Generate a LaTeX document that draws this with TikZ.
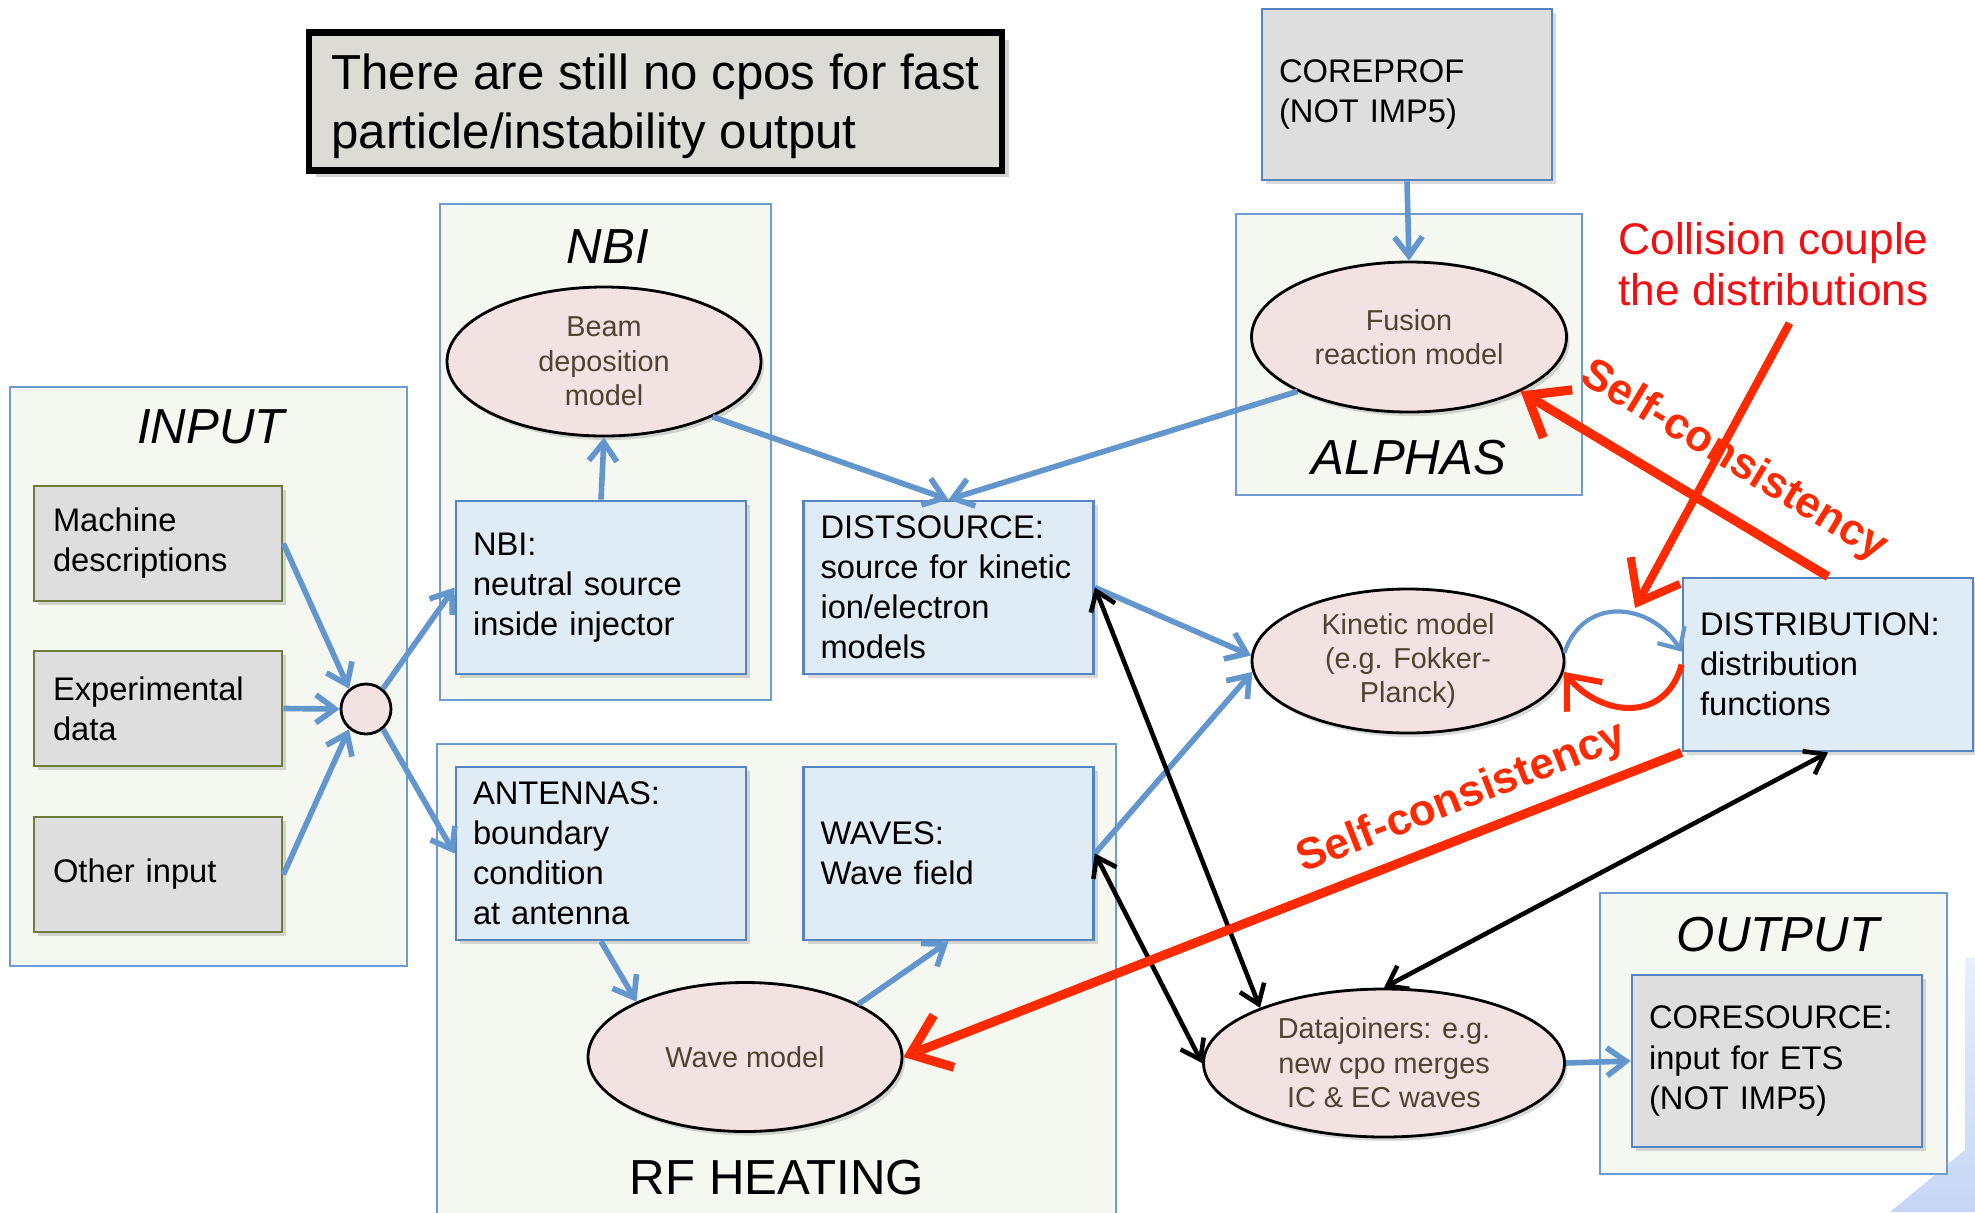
\documentclass[tikz,border=0pt]{standalone}
\usepackage{fontspec}
\setmainfont{Liberation Sans}
\usetikzlibrary{arrows.meta,shapes.geometric,shadows}

\definecolor{panelfill}{HTML}{F5F8F1}
\definecolor{panelline}{HTML}{6E9BD0}
\definecolor{boxfill}{HTML}{DFEBF5}
\definecolor{boxline}{HTML}{5585C0}
\definecolor{greyfill}{HTML}{DEDEDE}
\definecolor{oliveline}{HTML}{6E7D3C}
\definecolor{modelfill}{HTML}{F2E2E1}
\definecolor{modeltext}{HTML}{4E4431}
\definecolor{flowblue}{HTML}{6396CD}
\definecolor{scred}{HTML}{FF2A00}
\definecolor{notered}{HTML}{F20F14}
\definecolor{titlefill}{HTML}{DCDBD6}
\definecolor{cornerblue}{HTML}{C6D6F6}

\begin{document}
\begin{tikzpicture}[
  panel/.style={draw=panelline, fill=panelfill, line width=0.7pt},
  paneltitle/.style={font=\fontsize{14}{16.8}\selectfont\itshape},
  databox/.style={draw=boxline, fill=boxfill, line width=0.8pt, minimum width=2.9cm, minimum height=1.73cm, text width=2.56cm, inner xsep=0.17cm, align=left, font=\fontsize{9.3}{11.4}\selectfont, drop shadow={shadow xshift=0.04cm, shadow yshift=-0.04cm, opacity=0.3}},
  greybox/.style={databox, fill=greyfill},
  inputbox/.style={greybox, draw=oliveline, minimum width=2.48cm, minimum height=1.15cm, text width=2.1cm, inner xsep=0.19cm},
  model/.style={ellipse, draw, fill=modelfill, line width=0.8pt, inner sep=0pt, align=center, text=modeltext, font=\fontsize{8.2}{9.8}\selectfont, drop shadow={shadow xshift=0.03cm, shadow yshift=-0.04cm, opacity=0.3}},
  flow/.style={draw=flowblue, line width=1.6pt, -{Straight Barb[length=1.9mm, width=2.8mm]}},
  link/.style={line width=1.3pt, {Straight Barb[length=1.8mm, width=2.6mm]}-{Straight Barb[length=1.8mm, width=2.6mm]}},
  sc/.style={draw=scred, line width=2.6pt, -{Straight Barb[length=3.6mm, width=5.6mm]}},
  sclabel/.style={text=scred, font=\fontsize{12.5}{15}\selectfont\bfseries, inner sep=0pt}
]
\useasboundingbox (0,0) rectangle (19.75,-12.12);
\clip (0,0) rectangle (19.75,-12.12);

\shade[top color=cornerblue!40, bottom color=cornerblue] (19.65,-9.58) -- (19.75,-9.58) -- (19.75,-12.12) -- (18.9,-12.12) -- (19.65,-11.5) -- cycle;

\node[panel, minimum width=3.97cm, minimum height=5.79cm] (inpanel) at (2.085,-6.765) {};
\node[panel, minimum width=3.31cm, minimum height=4.96cm] (nbipanel) at (6.055,-4.52) {};
\node[panel, minimum width=6.79cm, minimum height=4.86cm] (rfpanel) at (7.765,-9.87) {};
\node[panel, minimum width=3.46cm, minimum height=2.81cm] (alphapanel) at (14.09,-3.545) {};
\node[panel, minimum width=3.47cm, minimum height=2.81cm] (outpanel) at (17.735,-10.335) {};

\node[paneltitle] (inptitle) at (2.11,-4.27) {INPUT};
\node[paneltitle] (nbititle) at (6.08,-2.47) {NBI};
\node[paneltitle, font=\fontsize{14}{16.8}\selectfont] (rftitle) at (7.77,-11.78) {RF HEATING};
\node[paneltitle] (alphatitle) at (14.09,-4.58) {ALPHAS};
\node[paneltitle] (outtitle) at (17.78,-9.35) {OUTPUT};

\node[draw, line width=1.9pt, fill=titlefill, minimum width=6.93cm, minimum height=1.37cm, align=left, font=\fontsize{14}{16.8}\selectfont, drop shadow={shadow xshift=0.07cm, shadow yshift=-0.07cm, opacity=0.35}] (title) at (6.555,-1.015) {\rule{0pt}{0.45cm}There are still no cpos for fast\\particle/instability output};

\node[greybox, minimum height=1.71cm] (core) at (14.07,-0.945) {COREPROF\\(NOT IMP5)};
\node[inputbox] (mach) at (1.58,-5.435) {Machine\\descriptions};
\node[inputbox] (exp) at (1.58,-7.085) {Experimental\\data};
\node[inputbox] (oth) at (1.58,-8.745) {Other input};
\node[circle, draw, fill=modelfill, minimum size=0.5cm, inner sep=0pt, line width=0.8pt] (jn) at (3.66,-7.09) {};
\node[databox] (nbi) at (6.01,-5.875) {NBI:\\neutral source\\inside injector};
\node[databox] (dsrc) at (9.485,-5.875) {DISTSOURCE:\\source for kinetic\\ion/electron\\models};
\node[databox] (ant) at (6.01,-8.535) {ANTENNAS:\\boundary\\condition\\at antenna};
\node[databox] (waves) at (9.485,-8.535) {WAVES:\\Wave field};
\node[databox] (dist) at (18.28,-6.645) {DISTRIBUTION:\\distribution\\functions};
\node[greybox, minimum height=1.72cm] (cores) at (17.77,-10.61) {CORESOURCE:\\input for ETS\\(NOT IMP5)};

\node[model, minimum width=3.14cm, minimum height=1.49cm] (beam) at (6.04,-3.615) {Beam\\deposition\\model};
\node[model, minimum width=3.15cm, minimum height=1.5cm] (fus) at (14.09,-3.37) {Fusion\\reaction model};
\node[model, minimum width=3.12cm, minimum height=1.44cm] (kin) at (14.08,-6.61) {Kinetic model\\(e.g. Fokker-\\Planck)};
\node[model, minimum width=3.14cm, minimum height=1.49cm] (wave) at (7.45,-10.57) {Wave model};
\node[model, minimum width=3.61cm, minimum height=1.48cm] (dj) at (13.84,-10.63) {Datajoiners: e.g.\\new cpo merges\\IC \& EC waves};

\node[text=notered, align=left, font=\fontsize{12.6}{14.5}\selectfont] (coll) at (17.735,-2.64) {Collision couple\\the distributions};
\coordinate (loopmid) at (16.35,-6.08);

\draw[flow] (mach.east) -- (jn.130);
\draw[flow] (exp.east) -- (jn.west);
\draw[flow] (oth.east) -- (jn.-130);
\draw[flow] (jn.50) -- (nbi.west);
\draw[flow] (jn.-50) -- (ant.west);
\draw[flow] (nbi.north) -- (beam.south);
\draw[flow] (beam.-27) -- (dsrc.north);
\draw[flow] (fus.-154) -- (dsrc.north);
\draw[flow] (core.south) -- (fus.north);
\draw[flow] (dsrc.east) -- (kin.178);
\draw[flow] (waves.east) -- (kin.184);
\draw[flow] (ant.south) -- (wave.153);
\draw[flow] (wave.25) -- (waves.south);
\draw[flow] (dj.east) -- (cores.west);
\draw[flow, line width=1.2pt, -{Straight Barb[length=1.7mm, width=3.2mm]}] (kin.3) to[out=72, in=122, looseness=1.3] (dist.175);

\draw[link] (dsrc.east) -- (dj.156);
\draw[link] (waves.east) -- (dj.west);
\draw[link] (dist.south) -- (dj.north);

\draw[sc, line width=1.7pt, -{Straight Barb[length=2.8mm, width=4.6mm]}] (dist.west) to[out=-105, in=-50, looseness=1.3] (kin.-4);
\draw[sc] (dist.north) -- node[sclabel, sloped, pos=0.39, above=0.25cm] (scup) {Self-consistency} (fus.-26);
\draw[sc] (dist.south west) -- node[sclabel, sloped, pos=0.265, above=0.12cm] (sclow) {Self-consistency} (wave.east);
\draw[sc, line width=2.3pt] ([shift={(0.16,-0.05)}]coll.south) -- (loopmid);
\end{tikzpicture}
\end{document}
